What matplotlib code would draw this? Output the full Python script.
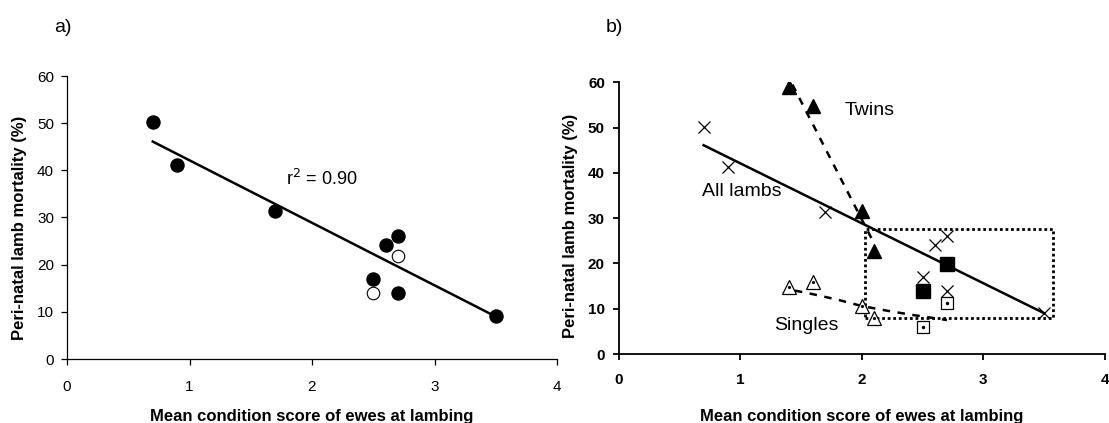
import matplotlib
matplotlib.use("Agg")
import matplotlib.pyplot as plt

plt.rcParams['font.family'] = ['Liberation Sans', 'DejaVu Sans']

# ---------------- data ----------------
# panel a
cs_all = [0.7, 0.9, 1.7, 2.6, 2.7, 2.5, 2.7, 3.5]
mort_all = [50.2, 41.2, 31.3, 24.1, 26.1, 17.0, 13.9, 9.1]
cs_open = [2.7, 2.5]
mort_open = [21.9, 13.9]
fit_x = [0.7, 3.5]
fit_y = [46.1, 9.0]

# panel b
twins_x = [1.4, 1.6, 2.0, 2.1]
twins_y = [58.9, 54.8, 31.6, 22.7]
singles_x = [1.4, 1.6, 2.0, 2.1]
singles_y = [14.8, 15.9, 10.7, 8.0]
sq_filled_x = [2.5, 2.7]
sq_filled_y = [14.0, 19.8]
sq_open_x = [2.5, 2.7]
sq_open_y = [5.9, 11.3]
twins_trend_x = [1.43, 2.1]
twins_trend_y = [59.5, 24.5]
singles_trend_x = [1.45, 1.6, 1.8, 2.0, 2.2, 2.4, 2.6, 2.7]
singles_trend_y = [14.0, 13.2, 12.0, 10.6, 9.6, 8.7, 7.9, 7.5]
box_x = [2.03, 3.57]
box_y = [7.9, 27.6]

x_ticks = [0, 1, 2, 3, 4]
y_ticks = [0, 10, 20, 30, 40, 50, 60]
xlabel = "Mean condition score of ewes at lambing"
ylabel = "Peri-natal lamb mortality (%)"

W, H = 1109, 423
fig = plt.figure(figsize=(W / 100, H / 100), dpi=100)


def px_axes(x0, x1, ytop, ybot):
    return fig.add_axes([x0 / W, 1 - ybot / H, (x1 - x0) / W, (ybot - ytop) / H])


def style(ax, bold, lw, xpad, ypad):
    ax.set_xlim(0, 4)
    ax.set_ylim(0, 60)
    ax.set_xticks(x_ticks)
    ax.set_yticks(y_ticks)
    for s in ['top', 'right']:
        ax.spines[s].set_visible(False)
    for s in ['left', 'bottom']:
        ax.spines[s].set_linewidth(lw)
        ax.spines[s].set_color('black')
    ax.tick_params(direction='out', length=4.3, width=lw, labelsize=11,
                   color='black')
    ax.tick_params(axis='x', pad=xpad)
    ax.tick_params(axis='y', pad=ypad)
    for lab in ax.get_xticklabels() + ax.get_yticklabels():
        lab.set_fontweight('bold' if bold else 'normal')
    ax.patch.set_alpha(0)


# ---------------- panel a ----------------
axa = px_axes(67, 557, 76, 359)
style(axa, False, 0.9, 10.5, 5)
axa.plot(fit_x, fit_y, color='black', lw=1.8, zorder=2)
axa.plot(cs_all, mort_all, 'o', ms=9.4, mfc='black', mec='black', zorder=3)
axa.plot(cs_open, mort_open, 'o', ms=9.0, mfc='white', mec='black', mew=0.8, zorder=3)
axa.text(1.786, 38.2, r"r$^{2}$ = 0.90", fontsize=13, ha='left', va='center')

fig.text(54 / W, 1 - 27 / H, "a)", fontsize=14, ha='left', va='center')
fig.text(312 / W, 1 - 421 / H, xlabel, fontsize=12, fontweight='bold',
         ha='center', va='baseline')
fig.text(20 / W, 1 - 228 / H, ylabel, fontsize=12, fontweight='bold',
         rotation=90, ha='center', va='center')

# ---------------- panel b ----------------
axb = px_axes(618.5, 1105, 82.3, 354)
style(axb, True, 1.3, 9.5, 5.5)

# dotted box
axb.plot([box_x[0], box_x[1], box_x[1], box_x[0], box_x[0]],
         [box_y[0], box_y[0], box_y[1], box_y[1], box_y[0]],
         color='black', lw=2.0, ls=(0, (1, 1)), zorder=1)
# all-lambs line
axb.plot(fit_x, fit_y, color='black', lw=1.8, zorder=2)
# trend lines
axb.plot(twins_trend_x, twins_trend_y, color='black', lw=1.8,
         ls=(0, (3, 3)), zorder=2)
axb.plot(singles_trend_x, singles_trend_y, color='black', lw=1.8,
         ls=(0, (3, 3)), zorder=2)

axb.plot(cs_all, mort_all, 'x', ms=8.5, mec='black', mew=0.9, zorder=3)
axb.plot(twins_x, twins_y, '^', ms=9.5, mfc='black', mec='black', zorder=3)
axb.plot(singles_x, singles_y, '^', ms=9.5, mfc='white', mec='black', mew=0.9, zorder=3)
axb.plot(singles_x, singles_y, '.', ms=2.5, color='black', zorder=4)
axb.plot(sq_filled_x, sq_filled_y, 's', ms=10.5, mfc='black', mec='black', zorder=3)
axb.plot(sq_open_x, sq_open_y, 's', ms=8.5, mfc='white', mec='black', mew=0.9, zorder=3)
axb.plot(sq_open_x, sq_open_y, '.', ms=3, color='black', zorder=4)

axb.text(1.863, 53.7, "Twins", fontsize=14, ha='left', va='center')
axb.text(0.686, 35.8, "All lambs", fontsize=14, ha='left', va='center')
axb.text(1.276, 6.3, "Singles", fontsize=14, ha='left', va='center')

fig.text(606 / W, 1 - 28 / H, "b)", fontsize=14, ha='left', va='center')
fig.text(862 / W, 1 - 421 / H, xlabel, fontsize=12, fontweight='bold',
         ha='center', va='baseline')
fig.text(570 / W, 1 - 226 / H, ylabel, fontsize=12, fontweight='bold',
         rotation=90, ha='center', va='center')

fig.savefig("out.png", dpi=100)
